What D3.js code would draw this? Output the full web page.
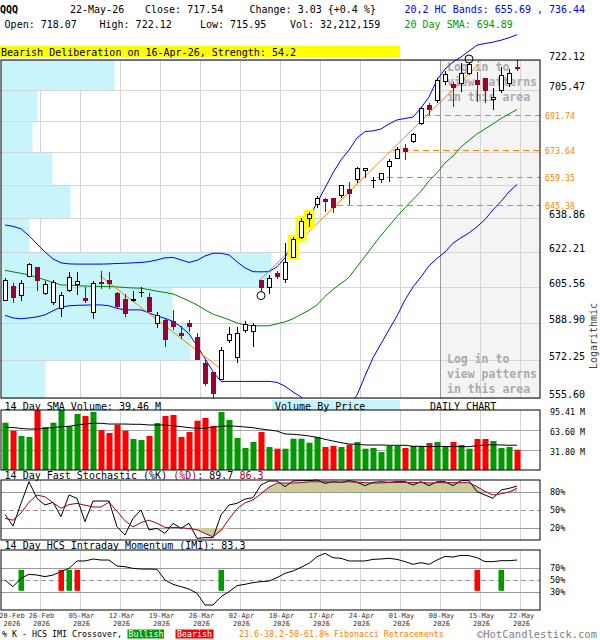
<!DOCTYPE html>
<html>
<head>
<meta charset="utf-8">
<script src="https://cdn.jsdelivr.net/npm/d3@7.9.0/dist/d3.min.js"></script>
<style>
  body { margin: 0; background: #fff; }
  svg { display: block; font-family: "DejaVu Sans Mono", monospace; }
</style>
</head>
<body>
<svg id="chart" width="600" height="640"></svg>
<script>
// ---- data (QQQ daily, 20-Feb-26 .. 22-May-26) ----
const open = [599.2,606.0,601.7,610.5,614.9,602.6,598.3,595.7,603.7,606.9, 600.0,593.9,607.6,608.6,602.3,599.6,599.5,602.9,600.8,588.8,
  590.2,589.7,584.3,588.8,582.3,570.5,566.9,563.8,580.9,573.5, 585.4,585.0,608.4,605.4,612.1,608.9,619.8,629.2,638.7,645.4,
  648.2,648.4,649.9,653.3,658.3,662.8,657.6,658.3,664.8,669.1, 674.3,677.8,687.6,697.0,699.6,710.1,708.3,709.2,714.8,710.7,
  712.0,700.1,705.1,709.2,718.07];
const high = [610.0,607.6,608.9,616.8,615.2,608.4,608.9,603.4,612.6,612.6, 605.4,608.6,613.2,612.6,603.3,602.3,603.7,605.4,602.6,593.9,
  590.5,594.9,587.6,590.2,584.5,572.3,567.1,578.2,587.0,587.0, 589.7,588.8,608.6,611.3,613.3,626.6,629.7,638.7,642.0,650.0,
  648.7,648.6,655.4,657.1,664.8,664.3,659.4,661.6,668.8,675.2, 676.6,682.6,696.5,698.3,712.0,716.0,710.1,720.3,721.0,715.6,
  712.3,706.8,718.4,717.0,722.12];
const low = [598.8,598.3,599.2,610.2,603.7,601.7,597.2,591.5,603.3,601.9, 598.0,590.6,604.6,604.6,595.8,591.8,598.5,600.8,593.9,586.5,
  578.0,585.8,581.6,585.0,572.3,560.6,555.6,563.5,580.0,571.1, 584.3,578.0,603.4,602.3,609.2,607.6,619.7,628.4,634.6,643.7,
  642.0,641.5,648.7,645.4,656.3,658.9,653.8,656.3,657.1,668.6, 668.3,677.3,686.7,692.0,698.5,708.5,696.5,704.6,713.8,699.2,
  698.6,694.7,703.7,707.3,715.95];
const close = [608.4,600.8,607.3,616.0,608.6,606.9,607.6,601.4,610.2,608.1, 599.1,607.3,607.0,607.0,596.4,593.4,599.6,603.0,594.1,592.3,
  581.6,587.2,583.1,587.2,572.6,562.0,557.7,576.4,583.8,584.3, 588.0,587.7,605.4,609.7,610.5,617.2,628.4,637.1,640.4,648.7,
  647.0,644.2,654.9,650.9,664.0,664.0,657.7,661.4,667.7,673.8, 672.5,681.4,695.6,694.7,711.0,714.2,706.8,714.8,719.4,708.8,
  705.5,701.6,713.3,714.5,717.54];

const bbUpper = [635.4,634.7,633.5,630.1,626.1,622.2,618.9,617.0,616.5,616.4, 616.4,616.4,616.4,616.5,616.7,616.8,617.0,617.2,617.6,618.4,
  619.4,619.6,618.4,617.2,618.2,620.3,621.6,621.6,620.8,617.5, 614.6,612.8,612.7,612.8,615.1,619.4,627.1,632.0,638.9,646.4,
  653.9,661.6,668.3,673.4,679.8,683.1,683.5,684.5,687.2,689.3, 690.1,690.8,695.8,701.7,711.0,717.1,721.0,723.8,727.2,730.5,
  731.4,732.2,733.3,734.7,736.44];
const bbLower = [592.4,591.2,590.8,591.2,591.7,592.6,594.5,596.2,596.8,597.0, 597.1,597.2,597.2,596.8,595.6,594.9,594.9,594.9,593.5,592.1,
  591.0,589.6,587.1,584.0,578.6,572.9,567.0,562.8,562.8,562.8, 562.8,562.8,562.8,562.8,562.4,560.7,558.2,556.1,552.6,549.5,
  546.9,546.0,547.8,552.1,556.9,565.2,573.2,579.5,585.8,592.1, 599.5,605.6,610.3,615.6,619.1,622.2,626.5,629.1,631.5,634.5,
  638.1,642.9,647.1,651.9,655.69];
const sma20 = [613.4,612.7,612.0,611.3,610.1,608.9,607.7,606.5,606.4,606.2, 606.0,605.9,605.8,605.8,605.6,605.3,605.1,605.0,604.3,603.6,
  603.0,602.3,600.7,599.0,597.2,594.9,592.9,591.7,590.4,588.9, 588.0,587.6,587.6,587.6,588.5,589.4,590.8,592.8,594.7,597.2,
  601.2,604.4,607.2,610.1,615.1,620.1,625.2,630.3,634.9,639.6, 643.9,648.1,652.2,657.5,661.6,666.7,670.3,675.0,678.5,681.9,
  684.5,687.2,690.1,692.5,694.89];

// volume in millions and its 14 day SMA
const volume = [75.2,62.5,54.1,52.5,95.41,68.4,75.2,95.41,69.5,89.0, 85.9,92.2,63.6,58.8,72.1,62.5,49.3,47.7,54.1,74.7,
  85.9,87.5,52.5,60.4,78.4,82.7,70.0,92.2,79.5,50.9, 35.0,44.5,60.4,36.6,33.9,33.9,49.8,49.8,43.4,52.5,
  36.6,38.2,36.6,40.3,44.5,33.9,35.0,28.6,38.2,38.2, 35.0,38.2,38.2,42.9,44.5,38.2,44.5,39.8,33.9,49.3,
  49.3,46.1,35.0,36.6,32.21];
const volSma = [67.9,67.6,66.0,65.2,65.2,66.3,67.3,68.9,69.5,71.6, 73.1,74.3,74.3,73.1,73.1,73.1,72.7,72.7,71.6,71.6,
  71.6,70.4,68.9,67.3,66.3,66.3,67.9,69.5,70.0,69.5, 68.4,67.3,65.2,63.6,62.0,57.2,56.8,55.7,54.1,52.0,
  48.8,46.1,43.4,41.3,40.9,39.8,39.8,39.8,39.3,39.3, 39.3,37.7,37.7,37.1,37.4,37.4,37.4,37.1,37.1,38.6,
  39.8,40.2,39.8,39.3,39.46];

// 14 day fast stochastic
const stochK = [42.8,23.3,61,97.2,69.4,58.3,62.8,38.9,75,69.4, 30.6,65,65,65,22.2,8.3,36.1,50,16.7,19.4,
  11.1,27.8,19.4,27.8,2.8,3.9,3.9,41.7,58.3,61.1, 68.3,70.6,91.7,98.3,98.3,88.9,98.3,98.9,98.9,100,
  94.4,97.2,96.1,98.9,96.1,90.6,96.1,97.2,96.1,97.2, 97.2,91.7,97.2,90.6,97.2,97.2,90.6,98.9,98.9,80.6,
  75,69.4,83.3,86.1,89.7];
const stochD = [36,33,45,63,75,72,62,53,59,61, 58,55,55,63,48,32,22,29,33,28,
  21,21,20.5,19,17,11,5,16,35,52, 62,67,77,88,95,95,95,95.5,97,97,
  97,96.5,96.5,97,96.5,95.5,95,95,96,96, 96,96,96,95,95.5,95.5,95.5,95.5,95.5,89,
  81,75,77,80,86.3];

// 14 day HCS intraday momentum
const imi = [50,38.9,52.8,59.4,58.3,55.6,58.3,63.9,69.4,81.7, 81.7,85,83.3,83.3,73.3,72.2,69.4,68.3,68.3,67.8,
  50,42.8,38.9,35,27.8,8.3,8.3,22.2,30.6,40.6, 42.8,45.6,47.2,48.3,53.9,61.1,65,71.1,77.8,88.9,
  94.4,87.2,86.1,81.7,81.7,81.7,84.4,85,86.1,84.4, 80.6,76.1,78.9,76.1,83.3,89.4,88.3,91.1,90.6,87.2,
  80.6,80.6,82.2,82.2,83.3];
const bullishCross = [2, 8, 27, 62];
const bearishCross = [7, 9, 59];

const priceTicks = [722.12, 705.47, 688.82, 672.16, 655.51, 638.86, 622.21, 605.56, 588.90, 572.25, 555.60];
const fibLevels = [691.74, 673.64, 659.35, 645.38];
const fibStartIdx = [53, 49, 47, 42];
// volume by price, one value per band between price ticks (top band first)
const vbpVolume = [565, 180, 155, 255, 345, 140, 1350, 855, 945, 220];

const trendLines = [[12, 610.8, 27, 567.9], [32, 608.9, 59, 719.4]];
const patternIdx = [36, 37, 38];
const circleBelow = [32];
const circleAbove = [58];

const xTickIdx = [0, 4, 9, 14, 19, 24, 29, 34, 39, 44, 49, 54, 59, 64];
const xTickLabels = ['20-Feb','26-Feb','05-Mar','12-Mar','19-Mar','26-Mar','02-Apr','10-Apr','17-Apr','24-Apr','01-May','08-May','15-May','22-May'];
const volTicks = [95.41, 63.60, 31.80];
const stochTicks = [80, 50, 20];
const imiTicks = [70, 50, 30];

// ---- scales ----
const svg = d3.select('#chart');
const n = close.length;
const x = d3.scaleLinear().domain([0, n - 1]).range([5, 517]);
const yP = d3.scaleLog().domain([555.6, 722.12]).range([398, 60]);
const yV = d3.scaleLinear().domain([0, 95.41]).range([470, 410]);
const yS = d3.scaleLinear().domain([0, 100]).range([540, 480]);
const yM = d3.scaleLinear().domain([0, 100]).range([610, 550]);
const xVbp = d3.scaleLinear().domain([0, 1350]).range([0, 270]);

const RED = '#990033', GRID = '#d4d4d4', FIB = '#ff7f00';
const idx = d3.range(n);
const gridX = xTickIdx.slice(1).map(i => Math.round(x(i)) + 3);

function txt(g, tx, ty, s, size, fill, anchor) {
  return g.append('text').attr('x', tx).attr('y', ty).attr('font-size', size)
    .attr('fill', fill || '#000').attr('text-anchor', anchor || 'start').text(s);
}

// ---- header ----
const hd = svg.append('g');
txt(hd, 0, 13, 'QQQ', 10).attr('font-weight', 'bold');
txt(hd, 70, 13, '22-May-26', 10);
txt(hd, 145, 13, 'Close: 717.54', 10);
txt(hd, 249.5, 13, 'Change: 3.03 {+0.4 %}', 10);
txt(hd, 4.6, 28, 'Open: 718.07', 10);
txt(hd, 99.5, 28, 'High: 722.12', 10);
txt(hd, 200, 28, 'Low: 715.95', 10);
txt(hd, 290, 28, 'Vol: 32,212,159', 10);
txt(hd, 404.5, 13, `20,2 HC Bands: ${bbLower[n - 1].toFixed(2)} , ${bbUpper[n - 1].toFixed(2)}`, 10, '#0000ff');
txt(hd, 404.5, 28, `20 Day SMA: ${sma20[n - 1].toFixed(2)}`, 10, '#009900');
hd.append('rect').attr('x', 0).attr('y', 45.5).attr('width', 400).attr('height', 11.5).attr('fill', '#ffff00');
txt(hd, 1, 55.5, 'Bearish Deliberation on 16-Apr-26, Strength: 54.2', 10);

// ---- price panel ----
const pp = svg.append('g');
pp.append('rect').attr('x', 440).attr('y', 60).attr('width', 100).attr('height', 338).attr('fill', '#f4f4f4');
pp.selectAll('.vg').data(gridX).join('line')
  .attr('x1', d => d + 0.5).attr('x2', d => d + 0.5).attr('y1', 60).attr('y2', 398)
  .attr('stroke', GRID);
// volume by price
pp.selectAll('.vbp').data(vbpVolume).join('rect')
  .attr('x', 1.5).attr('y', (d, k) => yP(priceTicks[k]))
  .attr('width', d => xVbp(d)).attr('height', (d, k) => yP(priceTicks[k + 1]) - yP(priceTicks[k]))
  .attr('fill', '#c8f4fc');
pp.selectAll('.hg').data(priceTicks).join('line')
  .attr('x1', 1).attr('x2', 540).attr('y1', d => Math.round(yP(d)) + 0.5).attr('y2', d => Math.round(yP(d)) + 0.5)
  .attr('stroke', GRID);
pp.append('line').attr('x1', 440.5).attr('x2', 440.5).attr('y1', 60).attr('y2', 398).attr('stroke', '#999');

['Log in to', 'view patterns', 'in this area'].forEach((s, k) => {
  txt(pp, 447, 71 + k * 15, s, 11.5, '#aaa').attr('font-weight', 'bold');
  txt(pp, 447, 363 + k * 15, s, 11.5, '#aaa').attr('font-weight', 'bold');
});

// fib retracements
fibLevels.forEach((f, k) => {
  const fy = Math.round(yP(f)) + 0.5;
  pp.append('line').attr('x1', x(fibStartIdx[k]) - 4).attr('x2', 540).attr('y1', fy).attr('y2', fy)
    .attr('stroke', FIB).attr('stroke-dasharray', '6,4')
    .attr('shape-rendering', 'crispEdges');
  txt(pp, 545, fy + 3, f.toFixed(2), 8.3, FIB);
});
// price labels (skip those covered by fib labels)
priceTicks.forEach(p => {
  const py = yP(p);
  if (fibLevels.some(f => Math.abs(yP(f) - py) < 11)) return;
  txt(pp, 549, py, p.toFixed(2), 10);
});
txt(pp, 0, 0, 'Logarithmic', 10, '#444', 'middle').attr('transform', 'translate(597,336) rotate(-90)');

// bands and SMA
svg.append('clipPath').attr('id', 'pclip').append('rect').attr('x', 0).attr('y', 0).attr('width', 541).attr('height', 398);
const lineP = arr => d3.line().x(i => x(i)).y(i => yP(arr[i]))(idx);
const lines = pp.append('g').attr('clip-path', 'url(#pclip)').attr('fill', 'none');
lines.append('path').attr('d', lineP(bbUpper)).attr('stroke', '#0000ff');
lines.append('path').attr('d', lineP(bbLower)).attr('stroke', '#0000ff');
lines.append('path').attr('d', lineP(sma20)).attr('stroke', '#008800');
trendLines.forEach(t => {
  lines.append('line').attr('x1', x(t[0]) - 1).attr('y1', yP(t[1])).attr('x2', x(t[2]) + 1).attr('y2', yP(t[3]))
    .attr('stroke', FIB);
});

// pattern highlight
pp.selectAll('.pat').data(patternIdx).join('rect')
  .attr('x', i => x(i) - 5.5).attr('y', i => yP(high[i]) - 2)
  .attr('width', 11).attr('height', i => yP(low[i]) - yP(high[i]) + 4)
  .attr('fill', '#ffff00');

// candles
const isUp = i => close[i] >= open[i];
const cg = pp.append('g').attr('shape-rendering', 'crispEdges');
cg.selectAll('.wick').data(idx).join('line')
  .attr('x1', i => Math.round(x(i)) + 0.5).attr('x2', i => Math.round(x(i)) + 0.5)
  .attr('y1', i => yP(high[i])).attr('y2', i => yP(low[i]))
  .attr('stroke', i => isUp(i) ? '#000' : RED);
cg.selectAll('.body').data(idx).join('rect')
  .attr('x', i => Math.round(x(i)) - 1.5).attr('width', 4)
  .attr('y', i => yP(Math.max(open[i], close[i])))
  .attr('height', i => Math.max(0.5, yP(Math.min(open[i], close[i])) - yP(Math.max(open[i], close[i]))))
  .attr('fill', i => isUp(i) ? '#fff' : RED)
  .attr('stroke', i => isUp(i) ? '#000' : RED);
pp.selectAll('.cb').data(circleBelow).join('circle')
  .attr('cx', i => x(i)).attr('cy', i => yP(low[i]) + 4).attr('r', 4)
  .attr('fill', 'none').attr('stroke', '#000');
pp.selectAll('.ca').data(circleAbove).join('circle')
  .attr('cx', i => x(i)).attr('cy', i => yP(high[i]) - 3).attr('r', 4)
  .attr('fill', 'none').attr('stroke', '#000');

pp.append('rect').attr('x', 1).attr('y', 60).attr('width', 539).attr('height', 338)
  .attr('fill', 'none').attr('stroke', '#000');

// ---- volume panel ----
const vp = svg.append('g');
vp.append('rect').attr('x', 272).attr('y', 400).attr('width', 128).attr('height', 10).attr('fill', '#c8f4fc');
txt(vp, 4.6, 409.5, `14 Day SMA Volume: ${volSma[n - 1].toFixed(2)} M`, 10);
txt(vp, 275, 409.5, 'Volume By Price', 10);
txt(vp, 430, 409.5, 'DAILY CHART', 10);
vp.selectAll('.vg').data(gridX).join('line')
  .attr('x1', d => d + 0.5).attr('x2', d => d + 0.5).attr('y1', 410).attr('y2', 470).attr('stroke', GRID);
vp.selectAll('.hg').data(volTicks.slice(1)).join('line')
  .attr('x1', 1).attr('x2', 540).attr('y1', d => Math.round(yV(d)) + 0.5).attr('y2', d => Math.round(yV(d)) + 0.5)
  .attr('stroke', '#a8a8a8');
vp.selectAll('.bar').data(idx).join('rect')
  .attr('x', i => Math.round(x(i)) - 2.5).attr('width', 6)
  .attr('y', i => yV(volume[i])).attr('height', i => yV(0) - yV(volume[i]))
  .attr('fill', i => isUp(i) ? '#009900' : '#ff0000');
vp.append('path').attr('d', d3.line().x(i => x(i)).y(i => yV(volSma[i]))(idx))
  .attr('fill', 'none').attr('stroke', '#000');
volTicks.forEach(v => txt(vp, 550, yV(v) + 4.5, `${v.toFixed(2)} M`, 8.3));
vp.append('rect').attr('x', 1).attr('y', 410).attr('width', 539).attr('height', 60)
  .attr('fill', 'none').attr('stroke', '#000');

// ---- stochastic panel ----
const sp = svg.append('g');
const st = txt(sp, 4.6, 479, '', 10);
st.append('tspan').text('14 Day Fast Stochastic (%K) ');
st.append('tspan').attr('fill', RED).text('(%D)');
st.append('tspan').text(`: ${stochK[n - 1]}  `);
st.append('tspan').attr('fill', RED).text(stochD[n - 1]);
sp.selectAll('.vg').data(gridX).join('line')
  .attr('x1', d => d + 0.5).attr('x2', d => d + 0.5).attr('y1', 480).attr('y2', 540).attr('stroke', GRID);
stochTicks.forEach(t => {
  sp.append('line').attr('x1', 1).attr('x2', 540).attr('y1', Math.round(yS(t)) + 0.5).attr('y2', Math.round(yS(t)) + 0.5)
    .attr('stroke', '#999').attr('stroke-dasharray', t === 50 ? '5,3' : null);
  txt(sp, 550, yS(t) + 3, `${t}%`, 8.5);
});
sp.append('path').attr('fill', '#cccc99')
  .attr('d', d3.area().x(i => x(i)).y0(yS(80)).y1(i => yS(Math.max(80, stochD[i])))(idx));
sp.append('path').attr('fill', '#cccc99')
  .attr('d', d3.area().x(i => x(i)).y0(yS(20)).y1(i => yS(Math.min(20, stochD[i])))(idx));
sp.append('path').attr('d', d3.line().x(i => x(i)).y(i => yS(stochK[i]))(idx)).attr('fill', 'none').attr('stroke', '#000');
sp.append('path').attr('d', d3.line().x(i => x(i)).y(i => yS(stochD[i]))(idx)).attr('fill', 'none').attr('stroke', RED);
sp.append('rect').attr('x', 1).attr('y', 480).attr('width', 539).attr('height', 60)
  .attr('fill', 'none').attr('stroke', '#000');

// ---- momentum panel ----
const mp = svg.append('g');
txt(mp, 4.6, 549, `14 Day HCS Intraday Momentum (IMI): ${imi[n - 1]}`, 10);
mp.selectAll('.vg').data(gridX).join('line')
  .attr('x1', d => d + 0.5).attr('x2', d => d + 0.5).attr('y1', 550).attr('y2', 610).attr('stroke', GRID);
imiTicks.forEach(t => {
  mp.append('line').attr('x1', 1).attr('x2', 540).attr('y1', Math.round(yM(t)) + 0.5).attr('y2', Math.round(yM(t)) + 0.5)
    .attr('stroke', '#999').attr('stroke-dasharray', t === 50 ? '5,3' : null);
  txt(mp, 550, yM(t) + 3, `${t}%`, 8.5);
});
[[bullishCross, '#009900'], [bearishCross, '#ff0000']].forEach(([arr, col]) => {
  mp.selectAll(null).data(arr).join('rect')
    .attr('x', i => Math.round(x(i)) - 2.5).attr('width', 5.5)
    .attr('y', yM(67)).attr('height', yM(32) - yM(67)).attr('fill', col);
});
mp.append('path').attr('d', d3.line().x(i => x(i)).y(i => yM(imi[i]))(idx)).attr('fill', 'none').attr('stroke', '#000');
mp.append('rect').attr('x', 1).attr('y', 550).attr('width', 539).attr('height', 60)
  .attr('fill', 'none').attr('stroke', '#000');

// ---- x axis ----
const xa = svg.append('g');
xTickIdx.forEach((i, k) => {
  const cx = k === 0 ? 12 : x(i) + 4.5;
  txt(xa, cx, 617.5, xTickLabels[k], 7, '#333', 'middle');
  txt(xa, cx, 625.5, '2026', 7, '#333', 'middle');
});

// ---- legend ----
const lg = svg.append('g');
txt(lg, 2, 637, '% K - HCS IMI Crossover,', 8.3);
lg.append('rect').attr('x', 127.5).attr('y', 629.5).attr('width', 36.5).attr('height', 9).attr('fill', '#009900');
txt(lg, 146, 637, 'Bullish', 8.3, '#fff', 'middle');
lg.append('rect').attr('x', 175.5).attr('y', 629.5).attr('width', 38).attr('height', 9).attr('fill', '#ff0000');
txt(lg, 194.5, 637, 'Bearish', 8.3, '#fff', 'middle');
txt(lg, 239, 637, '23.6-38.2-50-61.8% Fibonacci Retracements', 8.3, FIB);
txt(lg, 597, 637.5, '\u00a9HotCandlestick.com', 10.5, '#808080', 'end');
</script>
</body>
</html>
